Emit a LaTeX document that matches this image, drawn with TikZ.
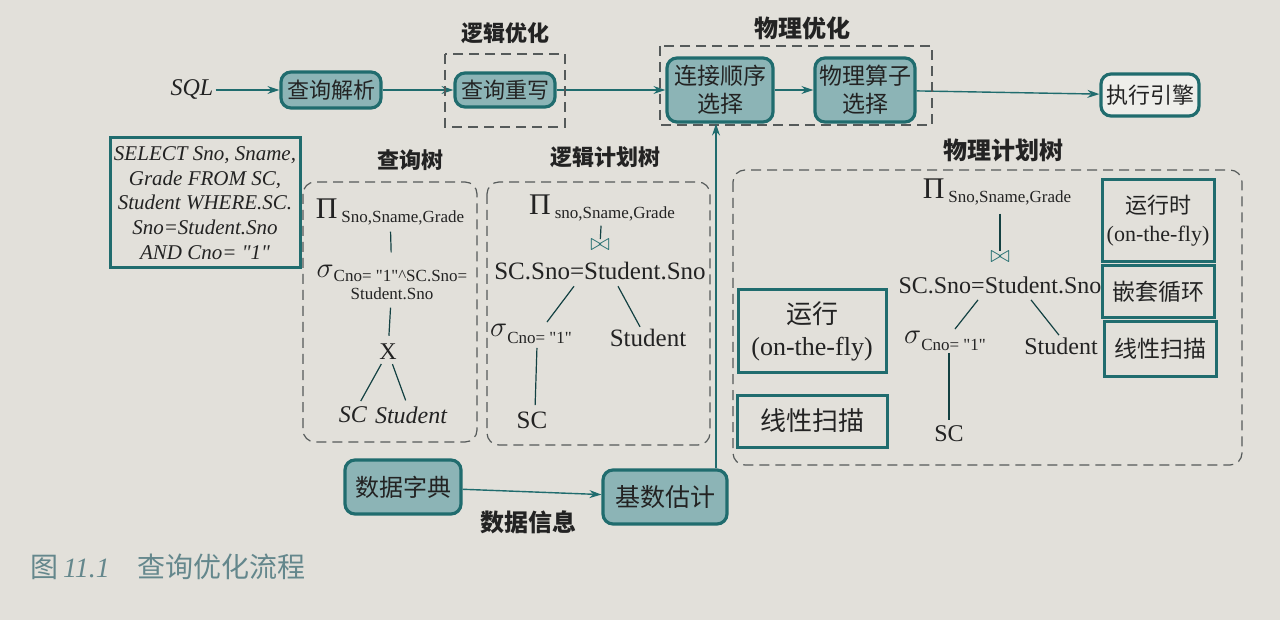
\documentclass[tikz,border=0pt]{standalone}
\usepackage{fontspec}
\setmainfont{Liberation Serif}
\newfontfamily\qf{Liberation Serif}
\newfontfamily\cjk{Noto Sans CJK SC}
\usetikzlibrary{arrows.meta}
\definecolor{bg}{RGB}{226,224,218}
\definecolor{tealb}{RGB}{32,108,110}
\definecolor{boxfill}{RGB}{140,180,182}
\definecolor{ink}{RGB}{35,35,35}
\definecolor{dashc}{RGB}{85,90,90}
\definecolor{capc}{RGB}{100,135,140}
\definecolor{whitefill}{RGB}{238,238,234}
\newcommand{\fs}[1]{\fontsize{#1}{#1}\selectfont}
\newcommand{\dq}{{\qf"}}
\tikzset{
  rbox/.style={draw=tealb, line width=1.6pt, fill=boxfill, rounded corners=5pt, inner sep=0pt, align=center, text=ink, font=\cjk\fontsize{11}{13.5}\selectfont},
  sbox/.style={draw=tealb, line width=1.5pt, inner sep=0pt, align=center, text=ink},
  dbox/.style={draw=dashc, line width=0.6pt, dash pattern=on 5pt off 3pt},
  dboxr/.style={dbox, rounded corners=6pt},
  flow/.style={draw=tealb, line width=0.7pt, -{Stealth[length=6pt,width=4pt]}},
  tline/.style={draw=tealb!60!black, line width=0.6pt},
  lbl/.style={text=ink, inner sep=0pt, font=\cjk\bfseries\fontsize{11}{13}\selectfont},
  tt/.style={text=ink, inner sep=1pt, align=center, font=\fontsize{12}{14}\selectfont},
  bt/.style={text=tealb, inner sep=0pt, font=\fontsize{13}{13}\selectfont},
}
\begin{document}
\begin{tikzpicture}[x=0.5pt,y=-0.5pt]
\useasboundingbox (0,0) rectangle (1280,620);
\fill[bg] (0,0) rectangle (1280,620);

% ---------- top row ----------
\node[tt, font=\itshape\fontsize{12}{14}\selectfont] (sql) at (192,90) {SQL};
\node[rbox, minimum width=50pt, minimum height=18pt] (parse) at (331,90) {查询解析};
\node[rbox, minimum width=50pt, minimum height=17pt] (rewrite) at (505,90) {查询重写};
\node[rbox, minimum width=53pt, minimum height=32pt, font=\cjk\fontsize{11.5}{14}\selectfont] (join) at (720,90) {连接顺序\\选择};
\node[rbox, minimum width=50pt, minimum height=32pt, font=\cjk\fontsize{11.5}{14}\selectfont] (phys) at (865,90) {物理算子\\选择};
\node[rbox, fill=whitefill, minimum width=49pt, minimum height=21pt] (exec) at (1150,95) {执行引擎};

\draw[flow] (sql) -- (parse);
\draw[flow] (parse) -- (rewrite);
\draw[flow] (rewrite) -- (join);
\draw[flow] (join) -- (phys);
\draw[flow] (phys) -- (exec);

\draw[dbox] (445,54) rectangle (565,127);
\node[lbl] (lgopt) at (505,33) {逻辑优化};
\draw[dbox] (660,46) rectangle (932,125);
\node[lbl, font=\cjk\bfseries\fontsize{12}{14}\selectfont] (phopt) at (802,28) {物理优化};

% ---------- SQL statement ----------
\node[sbox, minimum width=95pt, minimum height=65pt, font=\itshape\fontsize{10.5}{12.4}\selectfont] (sqlbox) at (205,203)
  {SELECT Sno, Sname,\\Grade FROM SC,\\Student WHERE.SC.\\Sno=Student.Sno\\AND Cno= \dq1\dq};

% ---------- query tree ----------
\node[lbl] (qlbl) at (410,160) {查询树};
\draw[dboxr] (303,182) rectangle (477,442);
\node[tt] (qpi) at (390,212) {{\fs{15}Π}\,\raisebox{-0.4ex}{\fs{8.5}Sno,Sname,Grade}};
\node[tt, font=\fontsize{8.5}{11}\selectfont] (qsig) at (392,282)
  {{\fs{14}$\sigma$}\raisebox{-0.6ex}{Cno= \dq1\dq\textasciicircum SC.Sno=}\\Student.Sno};
\node[tt] (qx) at (388,352) {X};
\node[tt, font=\itshape\fontsize{12}{14}\selectfont] (qsc) at (353,415) {SC};
\node[tt, font=\itshape\fontsize{12}{14}\selectfont] (qstu) at (411,415) {Student};
\draw[tline, shorten <=2pt, shorten >=5pt] (qpi) -- (qsig);
\draw[tline, shorten <=3pt, shorten >=3pt] (qsig) -- (qx);
\draw[tline, shorten <=1pt, shorten >=2pt] (qx) -- (qsc);
\draw[tline, shorten <=1pt, shorten >=2pt] (qx) -- (qstu);

% ---------- logical plan tree ----------
\node[lbl] (llbl) at (605,157) {逻辑计划树};
\draw[dboxr] (487,182) rectangle (710,445);
\node[tt] (lpi) at (602,208) {{\fs{15}Π}\,\raisebox{-0.4ex}{\fs{8.5}sno,Sname,Grade}};
\node[bt] (ljoin) at (600,245) {$\bowtie$};
\node[tt, font=\fontsize{12.5}{14}\selectfont, inner sep=0pt] (lcond) at (600,271) {SC.Sno=Student.Sno};
\node[tt] (lsig) at (531,334) {{\fs{14}$\sigma$}\raisebox{-0.6ex}{\fs{8.5}Cno= \dq1\dq}};
\node[tt, font=\fontsize{12.5}{14}\selectfont] (lstu) at (648,338) {Student};
\node[tt, font=\fontsize{12.5}{14}\selectfont] (lsc) at (532,420) {SC};
\draw[tline, shorten <=1pt] (lpi) -- (ljoin);
\draw[tline] ([xshift=-13pt,yshift=-3pt]lcond.south) -- ([xshift=8pt]lsig.north);
\draw[tline] ([xshift=9pt,yshift=-3pt]lcond.south) -- ([xshift=-4pt]lstu.north);
\draw[tline, shorten <=1pt, shorten >=2pt] ([xshift=3pt]lsig.south) -- ([xshift=1.5pt]lsc.north);

% ---------- physical plan tree ----------
\node[lbl, font=\cjk\bfseries\fontsize{12}{14}\selectfont] (plbl) at (1003,150) {物理计划树};
\draw[dboxr] (733,170) rectangle (1242,465);
\node[tt] (ppi) at (997,192) {{\fs{15}Π}\,\raisebox{-0.4ex}{\fs{8.5}Sno,Sname,Grade}};
\node[bt] (pjoin) at (1000,257) {$\bowtie$};
\node[tt, font=\fontsize{12}{14}\selectfont, inner sep=0pt] (pcond) at (1000,285) {SC.Sno=Student.Sno};
\node[tt] (psig) at (945,341) {{\fs{14}$\sigma$}\raisebox{-0.6ex}{\fs{8.5}Cno= \dq1\dq}};
\node[tt, font=\fontsize{12}{14}\selectfont] (pstu) at (1061,346) {Student};
\node[tt, font=\fontsize{12}{14}\selectfont] (psc) at (949,434) {SC};
\draw[tline, shorten <=3pt] (ppi.south -| pjoin.north) -- (pjoin.north);
\draw[tline] ([xshift=-11pt,yshift=-3pt]pcond.south) -- ([xshift=5pt]psig.north);
\draw[tline] ([xshift=15.5pt,yshift=-3pt]pcond.south) -- ([xshift=-1pt]pstu.north);
\draw[tline, shorten >=2pt] (psig.south -| psc.north) -- (psc.north);

\node[sbox, minimum width=74pt, minimum height=41pt, font=\fontsize{13}{16}\selectfont] (run1) at (812,331) {{\cjk 运行}\\(on-the-fly)};
\node[sbox, minimum width=75pt, minimum height=26pt, font=\cjk\fontsize{13}{15}\selectfont] (scan1) at (812,421) {线性扫描};
\node[sbox, minimum width=56pt, minimum height=41pt, font=\fontsize{11}{14}\selectfont] (run2) at (1158,221) {{\cjk 运行时}\\(on-the-fly)};
\node[sbox, minimum width=56pt, minimum height=26pt, font=\cjk\fontsize{11.5}{14}\selectfont] (loop) at (1158,292) {嵌套循环};
\node[sbox, minimum width=56pt, minimum height=27pt, font=\cjk\fontsize{11.5}{14}\selectfont] (scan2) at (1160,349) {线性扫描};

% ---------- bottom ----------
\node[rbox, minimum width=58pt, minimum height=27pt, font=\cjk\fontsize{12}{14}\selectfont] (dict) at (403,487) {数据字典};
\node[rbox, minimum width=62pt, minimum height=27pt, font=\cjk\fontsize{12.5}{14}\selectfont] (card) at (665,497) {基数估计};
\draw[flow] (dict) -- (card);
\node[lbl, font=\cjk\bfseries\fontsize{12}{14}\selectfont] (info) at (528,522) {数据信息};
\coordinate (vx) at (716,0);
\draw[flow] (card.north -| vx) -- (join.south -| vx);

% ---------- caption ----------
\node[anchor=west, text=capc, inner sep=0pt, font=\cjk\fontsize{14}{16}\selectfont] (cap) at (30,567)
  {图\,{\rmfamily\itshape 11.1}\quad 查询优化流程};
\end{tikzpicture}
\end{document}
